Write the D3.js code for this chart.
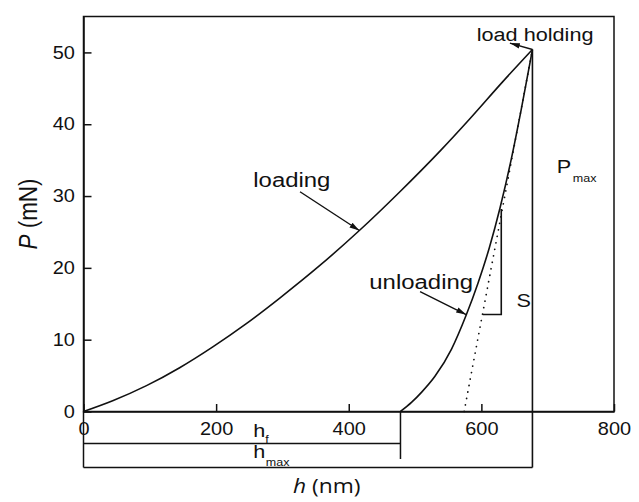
<!DOCTYPE html>
<html>
<head>
<meta charset="utf-8">
<script src="https://cdn.jsdelivr.net/npm/d3@7"></script>
<style>
  html, body { margin: 0; padding: 0; background: #fff; }
  svg { display: block; font-family: "Liberation Sans", Arial, sans-serif; }
  .axis path, .axis line { stroke: #111; stroke-width: 1.5; }
  .axis text { font-size: 17.5px; fill: #111; }
</style>
</head>
<body>
<div id="chart"></div>
<script>
"use strict";

// loading branch (h in nm, P in mN)
const loadH = [0, 44, 95, 145, 195, 245, 296, 356, 416, 476, 539, 582, 632, 677];
const loadP = [0, 1.5, 3.6, 6.1, 9.0, 12.2, 15.8, 20.3, 25.2, 30.5, 36.4, 40.7, 45.9, 50.4];

// unloading branch
const unloadH = [478, 495, 510, 530, 555, 577, 595, 612, 628, 645, 660, 677];
const unloadP = [0, 1.3, 2.7, 4.9, 8.7, 13.4, 17.9, 22.8, 28.3, 35.1, 42.0, 50.4];

// tangent to the top of the unloading branch (dotted)
const tangentH = [574, 677];
const tangentP = [0, 50.4];

const hf = 478;
const hmax = 677;
const pmax = 50.4;

// stiffness triangle
const stiffH = [602, 630];
const stiffP = [13.5, 28.2];

const xTicks = [0, 200, 400, 600, 800];
const yTicks = [0, 10, 20, 30, 40, 50];

const W = 639, H = 502;
const SX = 1.14; // the source picture is stretched a bit sideways

const x = d3.scaleLinear().domain([0, 800]).range([83.5, 614]);
const y = d3.scaleLinear().domain([0, 55]).range([411.5, 16.5]);
const y0 = y(0);

const svg = d3.select("#chart").append("svg")
  .attr("width", W).attr("height", H);

svg.append("defs").append("marker")
  .attr("id", "arrow")
  .attr("markerUnits", "userSpaceOnUse")
  .attr("viewBox", "0 -4 11 8")
  .attr("refX", 10).attr("refY", 0)
  .attr("markerWidth", 11).attr("markerHeight", 8)
  .attr("orient", "auto")
  .append("path")
  .attr("d", "M0,-2.8L10,0L0,2.8Z")
  .attr("fill", "#111");

function label(px, py, txt, size, opts) {
  opts = opts || {};
  const t = svg.append("text")
    .attr("transform", `translate(${px},${py}) ${opts.rotate ? "rotate(-90) scale(1," + SX + ")" : "scale(" + SX + ",1)"}`)
    .attr("font-size", size)
    .attr("fill", "#111")
    .attr("text-anchor", opts.anchor || "start");
  if (opts.family) t.attr("font-family", opts.family);
  if (txt) t.text(txt);
  return t;
}

// frame
svg.append("rect")
  .attr("x", x(0)).attr("y", y(55))
  .attr("width", x(800) - x(0)).attr("height", y(0) - y(55))
  .attr("fill", "none").attr("stroke", "#111").attr("stroke-width", 1.5);

// axes, ticks pointing inwards
const xAxis = svg.append("g").attr("class", "axis")
  .attr("transform", `translate(0,${y0})`)
  .call(d3.axisBottom(x).tickValues(xTicks).tickFormat(d3.format("d"))
    .tickSizeInner(-7.5).tickSizeOuter(0).tickPadding(11.5));
xAxis.selectAll("text").attr("transform", `scale(${SX},1)`);

const yAxis = svg.append("g").attr("class", "axis")
  .attr("transform", `translate(${x(0)},0)`)
  .call(d3.axisLeft(y).tickValues(yTicks).tickFormat(d3.format("d"))
    .tickSizeInner(-8).tickSizeOuter(0).tickPadding(7.5));
yAxis.selectAll("text").attr("transform", `scale(${SX},1)`);

// y axis line runs on below the plot to the h_max bar
svg.append("line")
  .attr("x1", x(0)).attr("x2", x(0))
  .attr("y1", y0).attr("y2", y0 + 56)
  .attr("stroke", "#111").attr("stroke-width", 1.5);

const line = d3.line().x((d) => x(d[0])).y((d) => y(d[1])).curve(d3.curveMonotoneX);

svg.append("path")
  .datum(loadH.map((h, i) => [h, loadP[i]]))
  .attr("d", line)
  .attr("fill", "none").attr("stroke", "#111").attr("stroke-width", 1.6);

svg.append("path")
  .datum(unloadH.map((h, i) => [h, unloadP[i]]))
  .attr("d", line)
  .attr("fill", "none").attr("stroke", "#111").attr("stroke-width", 1.6);

svg.append("path")
  .datum(tangentH.map((h, i) => [h, tangentP[i]]))
  .attr("d", d3.line().x((d) => x(d[0])).y((d) => y(d[1])))
  .attr("fill", "none").attr("stroke", "#111").attr("stroke-width", 1.7)
  .attr("stroke-linecap", "round")
  .attr("stroke-dasharray", "0.1,6.5");

// stiffness bracket
svg.append("path")
  .attr("d", `M${x(stiffH[0])},${y(stiffP[0])}H${x(stiffH[1])}V${y(stiffP[1])}`)
  .attr("fill", "none").attr("stroke", "#111").attr("stroke-width", 1.6);

// P_max vertical, down to the h_max bar
svg.append("line")
  .attr("x1", x(hmax)).attr("x2", x(hmax))
  .attr("y1", y(pmax)).attr("y2", y0 + 56)
  .attr("stroke", "#111").attr("stroke-width", 1.6);

// h_f bar
svg.append("path")
  .attr("d", `M${x(0)},${y0 + 32}H${x(hf)}M${x(hf)},${y0}V${y0 + 47.5}`)
  .attr("fill", "none").attr("stroke", "#111").attr("stroke-width", 1.5);

// h_max bar
svg.append("line")
  .attr("x1", x(0)).attr("x2", x(hmax))
  .attr("y1", y0 + 56).attr("y2", y0 + 56)
  .attr("stroke", "#111").attr("stroke-width", 1.5);

// arrows
function arrow(h1, p1, h2, p2) {
  svg.append("line")
    .attr("x1", x(h1)).attr("y1", y(p1))
    .attr("x2", x(h2)).attr("y2", y(p2))
    .attr("stroke", "#111").attr("stroke-width", 1.4)
    .attr("marker-end", "url(#arrow)");
}
arrow(326.5, 30.6, 416, 25.2);
arrow(507.5, 16.7, 577, 13.5);
arrow(hmax, pmax, 643, 51.3);

// annotations
label(x(256), y(31.2), "loading", 21);
label(x(431), y(17.0), "unloading", 21);
label(x(593), y(51.6), "load holding", 19);
label(x(653), y(14.6), "S", 19);

const pm = label(x(713.6), y(33.2), "", 19);
pm.append("tspan").text("P");
pm.append("tspan").attr("font-size", 11).attr("dx", 1.5).attr("dy", 9).text("max");

const hfl = label(x(256), y0 + 25.5, "", 19);
hfl.append("tspan").text("h");
hfl.append("tspan").attr("font-size", 11).attr("dx", 0).attr("dy", 6).text("f");

const hml = label(x(256), y0 + 46.5, "", 19);
hml.append("tspan").text("h");
hml.append("tspan").attr("font-size", 11).attr("dx", 0.5).attr("dy", 8).text("max");

// axis titles
const yt = label(37, 214, "", 22.5, { rotate: true, anchor: "middle" });
yt.append("tspan").attr("font-style", "italic").text("P");
yt.append("tspan").text(" (mN)");

const xt = label(326.7, 493, "", 20, { anchor: "middle", family: "'Open Sans', 'Liberation Sans', sans-serif" });
xt.append("tspan").attr("font-style", "italic").text("h");
xt.append("tspan").text(" (nm)");
</script>
</body>
</html>
